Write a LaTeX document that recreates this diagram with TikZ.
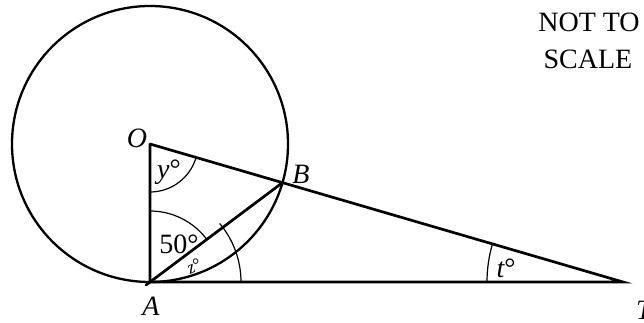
\documentclass[tikz,border=0pt]{standalone}
\usepackage{fontspec}
\setmainfont{Liberation Serif}
\usetikzlibrary{calc}
\begin{document}
\begin{tikzpicture}[x=1pt,y=1pt,
  geo/.style={line width=2.7pt,line cap=round},
  ang/.style={line width=1.2pt},
  lbl/.style={font=\fontsize{28}{32}\selectfont\itshape,inner sep=0pt},
  txt/.style={font=\fontsize{28}{32}\selectfont,inner sep=0pt,anchor=base}]
\useasboundingbox (0,0) rectangle (644,322);
\coordinate (O) at (150,178);
\coordinate (A) at (150,40);
\coordinate (T) at (623,40);
\coordinate (B) at ($(O)!138pt!(T)$);
\coordinate (Ax) at ($(A)!-5pt!(B)$);
% circle
\draw[line width=2.3pt] (O) circle[radius=138];
% lines
\draw[geo] (O) -- (A) -- (T) -- (O);
\draw[geo] (Ax) -- (B);
% angle arcs
\draw[ang] ($(O)+(0,-48)$) arc[start angle=270,end angle=343.7,radius=48];
\draw[ang] ($(A)+(0,71)$) arc[start angle=90,end angle=36.9,radius=71];
\draw[ang] ($(A)+(91,0)$) arc[start angle=0,end angle=40,radius=91];
\draw[ang] ($(T)+(-136,0)$) arc[start angle=180,end angle=163.7,radius=136];
% labels
\node[lbl] (lO) at (137,184) {O};
\node[lbl] (ly) at (169,150) {y\upshape°};
\node[lbl] (lB) at (301,148) {B};
\node[txt,anchor=center] (l50) at (179,78) {50°};
\node[inner sep=0pt,font=\fontsize{18}{20}\selectfont\itshape,rotate=25] (lz) at (194,56) {z\upshape°};
\node[lbl] (lA) at (151,16) {A};
\node[lbl] (lt) at (506,54) {t\upshape°};
\node[lbl] (lT) at (644,12) {T};
\node[txt] (n1) at (589,290) {NOT TO};
\node[txt] (n2) at (588,254) {SCALE};
\end{tikzpicture}
\end{document}
